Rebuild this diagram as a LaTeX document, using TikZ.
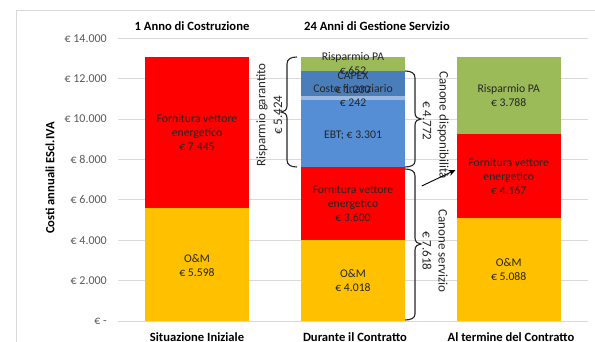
\documentclass[tikz,border=0pt]{standalone}
\usepackage{fontspec}
\setmainfont{Carlito}
\usetikzlibrary{arrows.meta}
\definecolor{om}{HTML}{FFC000}
\definecolor{forn}{HTML}{FF0000}
\definecolor{risp}{HTML}{9BBB59}
\definecolor{ebt}{HTML}{558ED5}
\definecolor{capex}{HTML}{4A7EBB}
\definecolor{cfin}{HTML}{9DB9E0}
\definecolor{grid}{HTML}{D9D9D9}
\definecolor{ticktxt}{HTML}{595959}
\definecolor{lbl}{HTML}{262626}
\tikzset{
  gridline/.style={draw=grid, line width=0.9pt},
  ticklbl/.style={anchor=east, text=ticktxt, font=\fontsize{12}{14}\selectfont, inner sep=0pt},
  barlbl/.style={text=lbl, align=center, font=\fontsize{11.7}{14}\selectfont, inner sep=0pt},
  headlbl/.style={font=\bfseries\fontsize{12.6}{15}\selectfont, inner sep=0pt},
  sidelbl/.style={text=lbl, font=\fontsize{13}{15}\selectfont, inner sep=0pt},
  bracepath/.style={draw=black!85, line width=1.1pt},
}
\begin{document}
\begin{tikzpicture}[x=1pt,y=-1pt]
\useasboundingbox (0,0) rectangle (595,342);
\fill[white] (0,0) rectangle (595,342);
% frame
\draw[grid, line width=1pt] (16,342) -- (16,10.5) -- (595,10.5);
% gridlines and ticks
\foreach \v/\t in {0/{€ -},2000/{€ 2.000},4000/{€ 4.000},6000/{€ 6.000},8000/{€ 8.000},10000/{€ 10.000},12000/{€ 12.000},14000/{€ 14.000}}{
  \draw[gridline] (118,{321-\v*0.0202}) -- (588,{321-\v*0.0202});
  \node[ticklbl] (tick\v) at (107,{321-\v*0.0202}) {\t};
}
% axis title
\node[headlbl, rotate=90] (ytitle) at (50,178) {Costi annuali EScl.IVA};
% headings
\node[headlbl] (h1) at (192,26) {1 Anno di Costruzione};
\node[headlbl] (h2) at (377,26) {24 Anni di Gestione Servizio};
% bar 1
\fill[om] (145,321) rectangle (249,208);
\fill[forn] (145,208) rectangle (249,57.5);
% bar 2
\fill[om] (301,321) rectangle (405,239.8);
\fill[forn] (301,239.8) rectangle (405,167);
\fill[ebt] (301,167) rectangle (405,100.4);
\fill[cfin] (301,100.4) rectangle (405,96.5);
\fill[capex] (301,96.5) rectangle (405,70.7);
\fill[risp] (301,70.7) rectangle (405,57.5);
% bar 3
\fill[om] (456.7,321) rectangle (560.7,218.2);
\fill[forn] (456.7,218.2) rectangle (560.7,134);
\fill[risp] (456.7,134) rectangle (560.7,57.5);
% bar 1 labels
\node[barlbl] (b1f) at (197,133) {Fornitura vettore\\energetico\\€ 7.445};
\node[barlbl] (b1o) at (197,265.5) {O\&M\\€ 5.598};
% bar 2 labels
\node[barlbl] (b2r) at (353,64) {Risparmio PA\\€ 652};
\node[barlbl] (b2c) at (353,83) {CAPEX\\€ 1.230};
\node[barlbl] (b2k) at (353,95.5) {Costo finanziario\\€ 242};
\node[barlbl] (b2e) at (353,135) {EBT; € 3.301};
\node[barlbl] (b2f) at (353,204) {Fornitura vettore\\energetico\\€ 3.600};
\node[barlbl] (b2o) at (353,280.5) {O\&M\\€ 4.018};
% bar 3 labels
\node[barlbl] (b3r) at (508.7,96) {Risparmio PA\\€ 3.788};
\node[barlbl] (b3f) at (508.7,177) {Fornitura vettore\\energetico\\€ 4.167};
\node[barlbl] (b3o) at (508.7,270) {O\&M\\€ 5.088};
% category labels
\node[headlbl] (c1) at (197,337) {Situazione Iniziale};
\node[headlbl] (c2) at (355,337) {Durante il Contratto};
\node[headlbl] (c3) at (511,337) {Al termine del Contratto};
% left brace
\draw[bracepath] (297,57) .. controls (291,57) and (287,59) .. (287,64) -- (287,106)
  .. controls (287,110) and (284,112) .. (281,112)
  .. controls (284,112) and (287,114) .. (287,118) -- (287,160)
  .. controls (287,165) and (291,167) .. (297,167);
\node[sidelbl, rotate=90] (rg) at (262,115) {Risparmio garantito};
\node[sidelbl, rotate=90] (rgv) at (278,115) {€ 5.424};
% right brace A
\draw[bracepath] (405,71) .. controls (411,71) and (415,73) .. (415,78) -- (415,113)
  .. controls (415,117) and (418,119) .. (421,119)
  .. controls (418,119) and (415,121) .. (415,125) -- (415,161)
  .. controls (415,165) and (411,167) .. (405,167);
\node[sidelbl, rotate=-90] (cdv) at (427,121) {€ 4.772};
\node[sidelbl, rotate=-90] (cd) at (443,125) {Canone disponibilità};
% right brace B
\draw[bracepath] (405,169) .. controls (411,169) and (415,171) .. (415,176) -- (415,238)
  .. controls (415,242) and (418,244) .. (421,244)
  .. controls (418,244) and (415,246) .. (415,250) -- (415,314)
  .. controls (415,318) and (411,320) .. (405,320);
\node[sidelbl, rotate=-90] (csv) at (427,251) {€ 7.618};
\node[sidelbl, rotate=-90] (cs) at (443,251) {Canone servizio};
% arrow
\coordinate (arrS) at (421.7,186);
\coordinate (arrE) at (455.5,170);
\draw[line width=0.9pt, black, -{Stealth[length=7pt,width=6pt]}] (arrS) -- (arrE);
\end{tikzpicture}
\end{document}
